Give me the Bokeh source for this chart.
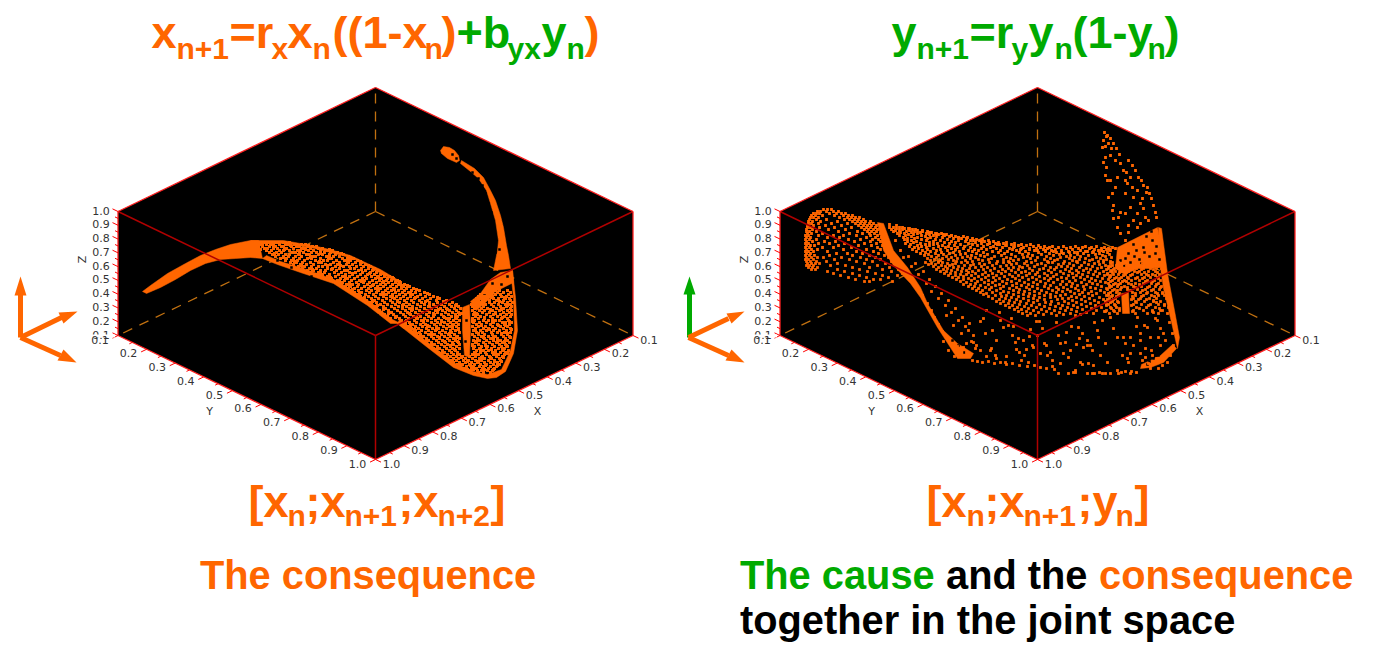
from bokeh.plotting import figure
from bokeh.embed import file_html
from bokeh.resources import INLINE
from bokeh.core.properties import value

ORANGE = "#ff6600"
GREEN = "#00aa00"

ticks = [0.1, 0.2, 0.3, 0.4, 0.5, 0.6, 0.7, 0.8, 0.9, 1.0]
tick_labels = ["0.1", "0.2", "0.3", "0.4", "0.5", "0.6", "0.7", "0.8", "0.9", "1.0"]
minor_ticks = [0.15, 0.25, 0.35, 0.45, 0.55, 0.65, 0.75, 0.85, 0.95]
panel_centres = [375, 1037]

# ---------- readings of the projected attractor (left panel) ----------
left_solid_x = [
    [142, 150, 167, 185, 200, 215, 230, 250, 258, 262, 250, 235, 220, 205, 190, 175, 160, 146],
    [250, 283, 300, 317, 333, 350, 367, 380, 390, 400, 399, 388, 375, 360, 345, 330, 314, 298, 283, 268, 256],
    [262, 277, 300, 333, 367, 390, 397, 403, 404, 392, 369, 336, 303, 280, 266],
    [470, 480, 490, 500, 512, 513, 505, 497, 485, 476],
    [462, 469, 470, 469, 464, 462],
    [397, 403, 427, 453, 473, 487, 496, 505, 513, 517, 515, 512, 510, 513, 514, 510, 501, 487, 473, 455, 430, 406, 399],
    [461, 474, 483, 490, 495, 500, 503, 506, 508, 510, 493, 497, 498, 495, 490, 486, 478, 470, 460],
    [440, 443, 449, 454, 458, 459, 456, 447, 441],
]
left_solid_y = [
    [291, 285, 273, 263, 255, 249, 244, 240, 240, 258, 257, 258, 259, 263, 270, 279, 287, 293],
    [240, 240, 243, 246, 250, 255, 263, 269, 275, 281, 283, 277, 270, 261, 256, 252, 248, 245, 243, 243, 243],
    [258, 264, 272, 283, 305, 323, 323, 328, 325, 319, 301, 280, 268, 261, 255],
    [301, 293, 279, 272, 270, 282, 286, 290, 302, 310],
    [307, 304, 330, 357, 355, 330],
    [323, 328, 347, 367, 375, 378, 377, 371, 353, 330, 297, 270, 270, 297, 330, 350, 369, 374, 371, 363, 344, 325, 319],
    [160, 168, 177, 190, 200, 215, 227, 245, 255, 268, 270, 250, 240, 220, 203, 190, 178, 171, 163],
    [150, 146, 147, 150, 155, 160, 162, 158, 153],
]
left_gap_x = [472, 478, 485, 491, 493, 494, 495, 499, 482, 488, 452, 456, 277, 291, 311, 336, 358, 377, 484, 492, 501, 507, 479, 495, 466, 465]
left_gap_y = [172, 178, 193, 212, 227, 237, 252, 249, 185, 203, 154, 158, 260, 267, 276, 292, 303, 315, 295, 283, 284, 276, 301, 293, 320, 341]
left_row_y = [242, 244, 246, 248, 250, 252, 254, 256, 258, 260, 262, 264, 266, 268, 270, 272, 274, 276, 278, 280,
              282, 284, 286, 288, 290, 292, 294, 296, 298, 300, 302, 304, 306, 308, 310, 312, 314, 316, 318, 320,
              322, 324, 326, 328, 330, 332, 334, 336, 338, 340, 342, 344, 346, 348, 350, 352, 354, 356, 358, 360,
              362, 364, 366, 368, 370, 372]
left_row_x = [
    [256, 261, 263, 268, 274, 277, 283, 289],
    [253, 259, 266, 270, 272, 279, 285, 288, 294, 301, 305],
    [258, 262, 269, 275, 281, 283, 291, 296, 299, 307, 312, 316],
    [264, 267, 273, 277, 286, 293, 301, 304, 310, 318, 322],
    [266, 271, 279, 283, 289, 297, 300, 308, 313, 320, 327, 332],
    [269, 276, 281, 292, 295, 303, 311, 316, 324, 330, 337],
    [272, 278, 285, 289, 298, 306, 309, 318, 322, 329, 335, 343],
    [275, 283, 288, 295, 301, 312, 315, 326, 333, 339, 348],
    [280, 286, 293, 299, 307, 311, 320, 328, 331, 342, 347, 353],
    [285, 291, 297, 304, 315, 323, 327, 336, 344, 350, 357],
    [290, 296, 302, 310, 318, 321, 333, 339, 348, 355, 361],
    [293, 300, 306, 313, 325, 330, 337, 346, 352, 360, 365],
    [298, 304, 311, 318, 322, 335, 343, 349, 356, 363, 370],
    [302, 309, 316, 327, 332, 339, 350, 354, 361, 368, 374],
    [307, 313, 320, 325, 336, 344, 347, 358, 365, 372, 377],
    [311, 318, 324, 334, 341, 349, 355, 362, 370, 376, 381],
    [317, 322, 329, 338, 345, 352, 360, 367, 374, 380, 385],
    [322, 327, 335, 342, 349, 357, 365, 371, 377, 384, 389],
    [327, 331, 340, 347, 354, 362, 366, 375, 381, 387, 393],
    [332, 337, 344, 351, 359, 364, 372, 379, 386, 391, 397],
    [337, 342, 349, 356, 363, 369, 376, 382, 388, 395, 400],
    [341, 346, 352, 358, 367, 373, 380, 385, 392, 398, 404],
    [345, 350, 357, 364, 370, 377, 383, 390, 396, 403, 409],
    [348, 354, 361, 368, 375, 380, 387, 393, 401, 406, 413],
    [351, 358, 366, 371, 378, 385, 391, 398, 404, 411, 419, 486, 494, 499, 507],
    [354, 361, 369, 376, 382, 388, 395, 402, 408, 415, 424, 483, 490, 497, 503, 510],
    [357, 365, 373, 380, 386, 392, 399, 405, 412, 420, 429, 480, 488, 495, 500, 508],
    [360, 368, 375, 383, 390, 396, 403, 410, 417, 425, 433, 478, 484, 492, 501, 506, 511],
    [363, 371, 378, 386, 394, 400, 407, 414, 422, 430, 439, 476, 486, 493, 498, 505, 509],
    [366, 374, 382, 390, 397, 404, 411, 419, 427, 436, 446, 474, 483, 489, 496, 503, 510],
    [369, 376, 384, 392, 399, 406, 413, 421, 429, 437, 445, 452, 474, 481, 489, 494, 502, 507, 512],
    [371, 380, 387, 395, 403, 409, 417, 424, 433, 441, 449, 456, 471, 478, 485, 491, 498, 505, 510],
    [374, 383, 391, 398, 406, 412, 420, 428, 436, 444, 451, 458, 472, 476, 483, 493, 500, 506, 511],
    [376, 385, 394, 402, 409, 416, 424, 431, 440, 446, 454, 460, 474, 481, 487, 496, 503, 510],
    [379, 388, 397, 405, 411, 419, 427, 435, 442, 449, 456, 472, 479, 484, 492, 499, 507, 511],
    [381, 391, 400, 407, 415, 422, 429, 437, 445, 452, 458, 474, 482, 489, 495, 503, 509],
    [384, 393, 403, 410, 418, 426, 434, 441, 448, 455, 459, 473, 477, 486, 493, 500, 506, 511],
    [387, 396, 405, 413, 420, 428, 433, 443, 451, 457, 475, 480, 490, 497, 504, 510],
    [390, 399, 408, 417, 424, 431, 438, 446, 449, 456, 472, 478, 484, 492, 501, 507],
    [401, 406, 414, 421, 427, 435, 441, 448, 453, 459, 474, 483, 488, 495, 499, 508],
    [409, 416, 423, 431, 437, 444, 450, 456, 473, 479, 486, 493, 502, 505, 511],
    [405, 412, 420, 425, 434, 440, 447, 453, 458, 476, 481, 490, 497, 504, 509],
    [408, 415, 422, 429, 436, 443, 449, 456, 472, 478, 485, 492, 500, 507],
    [411, 418, 426, 432, 438, 446, 452, 458, 475, 483, 488, 495, 503, 510],
    [409, 415, 421, 428, 435, 442, 450, 455, 473, 480, 486, 493, 499, 506],
    [412, 419, 425, 431, 439, 445, 451, 459, 476, 482, 491, 497, 504, 510],
    [414, 420, 428, 434, 441, 448, 454, 472, 478, 484, 492, 501, 507],
    [417, 423, 431, 437, 444, 450, 457, 474, 481, 488, 495, 503, 509],
    [419, 426, 433, 439, 447, 453, 459, 477, 484, 490, 497, 505],
    [422, 428, 436, 442, 449, 455, 473, 479, 486, 493, 500, 507],
    [425, 431, 438, 445, 452, 458, 475, 483, 489, 496, 502, 509],
    [427, 434, 441, 447, 453, 459, 472, 478, 485, 492, 499, 505],
    [430, 437, 444, 450, 456, 474, 481, 487, 494, 501, 507],
    [433, 439, 446, 452, 459, 473, 479, 486, 491, 498, 504],
    [435, 442, 449, 455, 476, 483, 488, 495, 503, 508],
    [438, 444, 451, 457, 474, 480, 485, 492, 500, 505],
    [441, 447, 453, 459, 472, 478, 486, 493, 498, 504],
    [444, 450, 456, 462, 469, 475, 482, 489, 496, 502],
    [447, 453, 458, 465, 472, 479, 484, 491, 499],
    [450, 456, 463, 468, 475, 481, 488, 494, 500],
    [453, 459, 465, 471, 477, 484, 490, 497],
    [457, 462, 469, 474, 480, 486, 493, 499],
    [460, 466, 473, 479, 483, 490, 496],
    [464, 471, 476, 482, 488, 494],
    [470, 477, 481, 487, 492],
    [478, 483, 490],
]
left_odd_y = [245, 249, 253, 257, 261, 265, 269, 273, 277, 281, 285, 289, 293, 297, 301, 305, 309, 313, 317, 321,
              325, 329, 333, 337, 341, 345, 349, 353, 357, 361, 365, 369]
left_odd_x = [
    [262, 273, 290, 308], [260, 284, 305, 329], [274, 299, 320, 341], [283, 310, 329, 350], [294, 319, 347, 360],
    [301, 327, 340, 368], [312, 331, 361, 373], [320, 352, 369, 382], [330, 345, 378, 392], [339, 361, 383, 399],
    [349, 372, 401, 407], [352, 377, 394, 416], [359, 383, 410, 427], [364, 392, 415, 437, 491, 504],
    [372, 397, 425, 443, 478, 499], [377, 402, 429, 455, 483, 507], [383, 412, 438, 447, 490, 501],
    [388, 409, 433, 461, 476, 495], [395, 416, 444, 455, 484, 502], [405, 423, 441, 472, 492, 509],
    [410, 427, 452, 481, 498, 505], [414, 436, 458, 475, 489, 511], [416, 431, 449, 478, 501, 507],
    [421, 439, 456, 483, 493, 510], [426, 444, 457, 476, 497, 504], [431, 450, 472, 485, 506],
    [436, 454, 480, 491, 502], [441, 457, 475, 495, 507], [446, 461, 481, 490, 503],
    [452, 467, 478, 494, 501], [459, 470, 485, 497], [467, 473, 484, 493],
]

# ---------- readings of the projected attractor (right panel) ----------
right_solid_x = [
    [877, 883, 893, 907, 920, 927, 943, 957, 973, 970, 957, 937, 920, 910, 893, 883],
    [1158, 1161, 1167, 1174, 1179, 1177, 1171, 1163, 1158],
    [1117, 1157, 1164, 1150, 1137, 1124, 1115],
    [1121, 1128, 1129, 1122],
    [1140, 1150, 1163, 1176, 1172, 1160, 1150, 1141],
]
right_solid_y = [
    [222, 223, 250, 267, 287, 303, 330, 343, 353, 358, 358, 327, 297, 283, 265, 250],
    [227, 228, 273, 310, 337, 348, 322, 288, 253],
    [247, 227, 265, 268, 268, 274, 268],
    [293, 292, 313, 313],
    [368, 367, 362, 348, 344, 355, 360, 364],
]
right_gap_x = [1128, 1136, 1143, 1149, 1152, 1130, 1124, 1139, 1146, 1156, 1133, 1144, 1151, 1125, 1155, 1147, 1153, 1145, 1158, 1149, 1156, 958, 964, 952, 1120, 1134, 1141, 1159]
right_gap_y = [253, 250, 247, 256, 240, 262, 265, 259, 236, 246, 244, 252, 231, 258, 253, 364, 358, 359, 355, 361, 350, 345, 352, 340, 260, 256, 263, 259]
tail_x = [1104, 1107, 1110, 1113, 1116, 1119, 1128, 1132, 1135, 1138, 1143, 1147, 1149, 1151, 1153, 1155, 1156,
          1103, 1102, 1105, 1103, 1106, 1105, 1107, 1112, 1108, 1113, 1112, 1113, 1117, 1120, 1125,
          1110, 1115, 1120, 1117, 1110, 1115, 1127, 1132, 1125, 1133, 1140, 1130, 1125, 1133, 1140, 1120, 1118,
          1128, 1137, 1143, 1137, 1128, 1145, 1148, 1130, 1125, 1137, 1142, 1106, 1108, 1111, 1105, 1123, 1126, 1141, 1146]
tail_y = [132, 135, 138, 143, 148, 154, 160, 165, 170, 177, 185, 187, 193, 198, 205, 212, 217,
          140, 147, 157, 162, 167, 175, 180, 193, 197, 205, 210, 218, 227, 233, 240,
          155, 160, 163, 177, 180, 187, 183, 187, 193, 197, 203, 207, 213, 220, 223, 212, 217,
          225, 213, 208, 227, 232, 217, 220, 177, 180, 190, 198, 136, 143, 148, 146, 170, 172, 180, 192]
loop_row_y = [209, 211, 213, 215, 217, 219, 221, 223, 225, 227, 229, 231, 233, 235, 237, 239, 241, 243, 245, 247,
              249, 251, 253, 255, 257, 259, 261, 263, 265, 267, 269, 271, 273, 275, 277, 279, 281]
loop_row_x = [
    [823, 827, 831], [817, 820, 826, 833, 838], [813, 816, 819, 829, 836, 841, 845], [811, 815, 822, 834, 843, 848, 852],
    [810, 813, 818, 839, 847, 851, 855, 859], [809, 816, 826, 844, 849, 854, 858, 863],
    [808, 812, 820, 837, 852, 857, 861, 865, 870], [808, 811, 818, 831, 847, 855, 860, 864, 869, 873],
    [807, 813, 825, 841, 858, 863, 867, 871, 876], [807, 810, 819, 834, 851, 861, 866, 870, 875],
    [806, 812, 828, 845, 864, 868, 873, 877], [806, 809, 816, 838, 857, 867, 871, 876],
    [807, 811, 822, 849, 862, 869, 874, 880], [805, 808, 818, 833, 843, 856, 870, 877],
    [806, 810, 827, 839, 866, 875, 881], [805, 809, 816, 848, 860, 872, 878],
    [806, 812, 824, 835, 854, 870, 880], [805, 808, 818, 829, 844, 864, 876],
    [806, 810, 814, 838, 858, 871, 882], [805, 809, 822, 833, 851, 877, 884],
    [806, 811, 817, 843, 866, 880], [805, 808, 813, 827, 856, 873, 886],
    [806, 810, 836, 847, 862, 878], [805, 809, 814, 829, 852, 869, 884],
    [806, 811, 817, 823, 841, 860, 875, 888], [805, 808, 813, 834, 849, 866, 880],
    [806, 810, 816, 826, 856, 872, 891], [807, 811, 815, 819, 837, 864, 885],
    [806, 809, 813, 830, 845, 877, 895], [808, 812, 817, 852, 869, 889],
    [811, 815, 837, 859, 882, 898], [827, 844, 867, 891], [833, 852, 875, 902],
    [840, 859, 882, 897], [848, 866, 888], [855, 873, 880], [864, 869, 892],
]
body_row_y = list(range(227, 316))
body_row_x = [
    [889, 893, 899], [896, 904, 908], [891, 902, 912], [895, 899, 909, 917], [893, 906, 914, 922, 927],
    [900, 911, 920, 931], [897, 904, 917, 926, 935, 941], [908, 913, 929, 938, 946], [899, 905, 921, 933, 944, 951],
    [911, 925, 936, 949, 955, 963], [903, 917, 930, 942, 958, 967], [907, 914, 927, 953, 961, 972],
    [904, 921, 935, 947, 966, 976, 982], [911, 926, 940, 958, 970, 979, 988], [907, 916, 933, 951, 965, 984, 993],
    [913, 929, 944, 955, 975, 989, 998, 1006], [905, 920, 937, 949, 968, 981, 995, 1003, 1014],
    [910, 925, 933, 960, 972, 987, 999, 1011, 1021, 1030], [917, 929, 942, 954, 977, 1006, 1018, 1026, 1038],
    [909, 921, 938, 948, 964, 983, 993, 1014, 1033, 1044, 1052, 1063, 1075, 1085, 1096],
    [914, 926, 945, 957, 970, 990, 1002, 1023, 1040, 1049, 1058, 1070, 1082, 1091, 1104, 1112],
    [918, 933, 951, 963, 981, 996, 1009, 1029, 1036, 1047, 1066, 1078, 1089, 1101, 1108],
    [912, 927, 940, 955, 974, 986, 1012, 1020, 1043, 1055, 1072, 1094, 1106],
    [922, 936, 947, 968, 978, 1000, 1016, 1034, 1051, 1061, 1080, 1098, 1110],
    [916, 930, 959, 972, 992, 1007, 1025, 1045, 1068, 1087, 1103],
    [925, 941, 953, 983, 998, 1019, 1038, 1056, 1074, 1092, 1107],
    [920, 935, 949, 965, 976, 1004, 1028, 1049, 1063, 1083, 1099],
    [928, 943, 960, 987, 1011, 1022, 1041, 1059, 1077, 1095, 1109],
    [924, 938, 955, 971, 980, 1001, 1032, 1053, 1070, 1088, 1102],
    [931, 946, 967, 984, 994, 1015, 1027, 1046, 1066, 1080, 1105],
    [936, 951, 962, 975, 1006, 1023, 1037, 1060, 1074, 1096, 1111],
    [927, 942, 957, 970, 991, 1010, 1030, 1050, 1069, 1085, 1100],
    [934, 948, 978, 988, 1003, 1018, 1044, 1057, 1079, 1092, 1106],
    [930, 940, 953, 965, 982, 1013, 1035, 1054, 1072, 1089, 1103],
    [938, 956, 972, 997, 1008, 1026, 1047, 1064, 1076, 1098, 1110],
    [925, 938, 942, 961, 967, 989, 1003, 1009, 1031, 1048, 1052, 1077, 1084, 1103],
    [931, 947, 955, 979, 996, 1016, 1024, 1041, 1063, 1069, 1094, 1110],
    [928, 935, 952, 973, 984, 1011, 1037, 1058, 1088, 1099],
    [941, 949, 964, 970, 992, 1006, 1027, 1045, 1073, 1081, 1105],
    [933, 945, 958, 981, 1000, 1019, 1034, 1061, 1067, 1092, 1108],
    [938, 953, 975, 987, 1013, 1022, 1050, 1056, 1079, 1101],
    [947, 962, 969, 994, 1008, 1029, 1043, 1071, 1086, 1097],
    [936, 943, 957, 983, 1002, 1018, 1039, 1054, 1065, 1090, 1106],
    [951, 966, 978, 990, 1011, 1032, 1048, 1076, 1083, 1111],
    [940, 946, 961, 972, 998, 1005, 1025, 1060, 1069, 1095, 1103],
    [955, 968, 985, 1015, 1021, 1037, 1051, 1078, 1088],
    [944, 950, 975, 992, 1001, 1029, 1044, 1063, 1072, 1099, 1107],
    [960, 966, 982, 1009, 1035, 1056, 1082, 1093],
    [948, 955, 971, 988, 996, 1018, 1026, 1047, 1068, 1076, 1104],
    [963, 978, 1004, 1012, 1039, 1053, 1087, 1097, 1110],
    [952, 958, 985, 993, 1022, 1032, 1061, 1073, 1080],
    [968, 974, 999, 1015, 1044, 1050, 1066, 1091, 1102],
    [956, 963, 981, 1007, 1028, 1036, 1057, 1084, 1108],
    [971, 988, 995, 1019, 1048, 1075, 1095],
    [960, 977, 1002, 1011, 1040, 1062, 1069, 1089, 1100],
    [966, 984, 992, 1024, 1033, 1053, 1081, 1105],
    [975, 1006, 1016, 1045, 1072, 1092],
    [963, 970, 988, 999, 1028, 1037, 1060, 1066, 1086, 1097],
    [980, 995, 1012, 1021, 1050, 1077, 1109],
    [968, 974, 1003, 1032, 1044, 1071, 1083, 1101],
    [985, 991, 1016, 1026, 1056, 1063, 1090],
    [972, 978, 1000, 1009, 1037, 1048, 1075, 1095, 1106],
    [989, 1019, 1029, 1058, 1067, 1084],
    [976, 982, 996, 1013, 1041, 1052, 1078, 1100],
    [1003, 1024, 1034, 1062, 1070, 1091],
    [980, 992, 1008, 1018, 1046, 1056, 1082, 1104],
    [986, 1000, 1029, 1039, 1074, 1088, 1096],
    [983, 1013, 1023, 1050, 1065, 1079],
    [995, 1006, 1034, 1044, 1060, 1092, 1108],
    [988, 1001, 1018, 1028, 1055, 1071, 1084],
    [1011, 1039, 1050, 1076, 1099],
    [992, 1005, 1023, 1033, 1062, 1068, 1089],
    [999, 1016, 1044, 1057, 1081, 1103],
    [1009, 1028, 1037, 1072, 1094],
    [996, 1003, 1020, 1051, 1064, 1085],
    [1014, 1033, 1045, 1076, 1098],
    [1000, 1008, 1026, 1058, 1068, 1090],
    [1019, 1039, 1050, 1081, 1106],
    [1005, 1012, 1031, 1062, 1073, 1095],
    [1024, 1044, 1055, 1086],
    [1009, 1017, 1036, 1067, 1077, 1101],
    [1028, 1049, 1060, 1091],
    [1014, 1021, 1041, 1071, 1082],
    [1033, 1054, 1065, 1096],
    [1018, 1026, 1046, 1076, 1104],
    [1038, 1059, 1086],
    [1022, 1030, 1051, 1070, 1093],
    [1043, 1063, 1080],
    [1027, 1035, 1056, 1075],
]
top_edge_x = [889, 896, 902, 909, 915, 922, 929, 936, 943, 951, 958, 966, 973, 981, 989, 997, 1005, 1013, 1021, 1029, 1037,
              1045, 1053, 1061, 1069, 1077, 1085, 1093, 1101, 1109, 1115]
top_edge_y = [224, 225, 227, 228, 229, 230, 232, 233, 234, 235, 237, 238, 240, 241, 243, 244, 245, 247, 248, 249, 250,
              250, 251, 252, 252, 252, 251, 251, 250, 249, 248]
wedge_x = [895, 900, 903, 908, 911, 915, 918, 923, 926, 929, 931, 935, 938, 941, 945, 948, 951, 955, 958, 962, 965, 969, 973,
           913, 918, 922, 927, 931, 934, 938, 942, 946, 949, 953, 957, 961, 966, 971, 976, 980, 986, 991, 996, 943, 948, 954, 960, 966, 972]
wedge_y = [240, 250, 257, 256, 266, 263, 274, 271, 283, 279, 291, 286, 298, 293, 305, 300, 312, 308, 320, 317, 326, 323, 335,
           281, 288, 295, 303, 310, 317, 324, 331, 315, 338, 325, 346, 333, 352, 341, 345, 350, 356, 348, 358, 341, 350, 356, 349, 343, 360]
fan_row_y = [262, 265, 268, 271, 274, 277, 280, 283, 286, 289, 292, 295, 298, 301, 304, 307, 310, 313,
             263, 266, 269, 272, 275, 278, 281, 284, 287, 290, 293, 296, 299, 302, 305, 308, 311]
fan_row_x = [
    [1157, 1160, 1112, 1118], [1112, 1116, 1120, 1126, 1132, 1140, 1146, 1153, 1159], [1108, 1114, 1118, 1123, 1129, 1136, 1143, 1150, 1156, 1161],
    [1110, 1115, 1120, 1128, 1134, 1139, 1148, 1155, 1162], [1107, 1113, 1118, 1125, 1132, 1141, 1146, 1152, 1159],
    [1109, 1116, 1121, 1127, 1137, 1144, 1150, 1157, 1163], [1112, 1118, 1124, 1131, 1139, 1147, 1154, 1160],
    [1108, 1115, 1120, 1128, 1135, 1143, 1151, 1158, 1164], [1111, 1117, 1124, 1133, 1141, 1149, 1155, 1161],
    [1107, 1114, 1120, 1127, 1137, 1145, 1153, 1159, 1165], [1110, 1116, 1132, 1140, 1147, 1155, 1162],
    [1106, 1112, 1118, 1135, 1143, 1151, 1158, 1164], [1109, 1115, 1133, 1140, 1149, 1156, 1166],
    [1105, 1112, 1117, 1135, 1144, 1153, 1160], [1108, 1114, 1133, 1141, 1150, 1158, 1164],
    [1110, 1116, 1136, 1146, 1155, 1168], [1106, 1113, 1119, 1133, 1143, 1152, 1162], [1109, 1117, 1135, 1147, 1158, 1167],
    [1123, 1135, 1142, 1150], [1110, 1121, 1127, 1133, 1147, 1158], [1113, 1122, 1131, 1141, 1153],
    [1112, 1119, 1126, 1137, 1144, 1157], [1110, 1123, 1130, 1148, 1155], [1114, 1119, 1128, 1135, 1142, 1158],
    [1110, 1122, 1126, 1145, 1152], [1113, 1118, 1131, 1139, 1156], [1109, 1121, 1127, 1135, 1147, 1160],
    [1112, 1117, 1130, 1142, 1151], [1108, 1119, 1135, 1146, 1157], [1111, 1116, 1132, 1141, 1154],
    [1107, 1113, 1131, 1138, 1146], [1110, 1118, 1136, 1156], [1106, 1115, 1131, 1148],
    [1111, 1119, 1139, 1159], [1105, 1114, 1132, 1152],
]
sparse_x = [1050, 1047, 1052, 1060, 1065, 1063, 1068, 1060, 1058, 1073, 1080, 1075, 1083, 1087, 1092, 1088, 1093, 1087, 1092,
            1102, 1110, 1118, 1117, 1127, 1130, 1133, 1140, 1145, 1130, 1097, 1098, 1078, 1082, 1087, 1102, 1110, 1117, 1123,
            1130, 1140, 1150, 1158, 1163, 1157, 1147, 1137, 1160, 1153, 1162, 1169, 1165, 1172, 1173, 1168, 1160, 1152, 1145,
            1142, 1148, 1156, 1162, 1170, 1167, 1158, 1150, 1143, 1151, 1160, 1140, 1153, 1164, 1144, 1155,
            973, 985, 990, 996, 1003, 1006, 1012, 1016, 1021, 1015, 1024, 1028, 1033, 1037, 1040, 1046, 1042, 1030, 1023, 1011,
            1000, 992, 980, 968, 986, 999, 1008, 1018, 1026, 1036, 1044, 1032, 1019, 1005, 995, 975, 963, 983, 1013, 1029, 1039,
            1056, 1066, 1071, 1079, 1094, 1105, 1113, 1125, 1136, 1100, 1082, 1070, 1058, 1052, 1076, 1090, 1107, 1122, 1128,
            977, 982, 988, 994, 1000, 1006, 1012, 1019, 1027, 1034, 1040, 1046, 1054, 1068, 1075, 1094, 1099, 1105, 1121, 1125, 1131, 1136]
sparse_y = [352, 355, 360, 343, 342, 353, 357, 363, 373, 372, 362, 370, 347, 345, 350, 363, 365, 373, 373,
            373, 373, 373, 370, 358, 353, 345, 353, 357, 373, 330, 337, 327, 333, 340, 320, 317, 337, 337,
            337, 333, 337, 337, 333, 320, 327, 317, 310, 300, 293, 322, 340, 333, 345, 352, 345, 355, 348,
            360, 363, 358, 365, 355, 362, 368, 368, 366, 350, 328, 340, 312, 305, 325, 318,
            342, 333, 350, 340, 327, 356, 335, 349, 360, 342, 355, 362, 347, 335, 353, 345, 328, 329, 340, 318,
            320, 330, 321, 330, 310, 312, 325, 338, 349, 321, 343, 345, 352, 362, 355, 348, 347, 318, 326, 336, 321,
            322, 332, 326, 338, 322, 343, 328, 343, 326, 355, 364, 350, 335, 366, 344, 345, 362, 355, 362,
            361, 362, 361, 363, 362, 364, 363, 365, 366, 365, 367, 368, 369, 373, 372, 373, 372, 373, 372, 371, 371, 372]

# ---------- readings of the coordinate-direction arrows ----------
arrow_shaft_x = [[20, 20], [20, 61], [20, 60], [689, 689], [688, 728], [688, 728]]
arrow_shaft_y = [[337, 292], [337, 317], [337, 355], [337, 292], [337, 318], [337, 355]]
arrow_shaft_color = [ORANGE, ORANGE, ORANGE, GREEN, ORANGE, ORANGE]
arrow_head_x = [[14, 20, 26], [58, 77, 63], [57, 76, 63], [683, 689, 695], [726, 744, 731], [725, 744, 731]]
arrow_head_y = [[295, 276, 295], [312, 311, 323], [360, 362, 349], [294, 276, 294], [313, 311, 323], [360, 362, 349]]
arrow_head_color = [ORANGE, ORANGE, ORANGE, GREEN, ORANGE, ORANGE]

# ---------- text runs: text, left x, colour ----------
title_main = [("x", 151, ORANGE), ("=r", 229, ORANGE), ("x", 287, ORANGE), ("((1-x", 332, ORANGE), (")", 441, ORANGE),
              ("+b", 456, GREEN), ("y", 541, GREEN), (")", 584, ORANGE),
              ("y", 891, GREEN), ("=r", 969, GREEN), ("y", 1028, GREEN), ("(1-y", 1072, GREEN), (")", 1164, GREEN)]
title_sub = [("n+1", 176, ORANGE), ("x", 271, ORANGE), ("n", 312, ORANGE), ("n", 424, ORANGE),
             ("yx", 507, GREEN), ("n", 566, GREEN),
             ("n+1", 916, GREEN), ("y", 1011, GREEN), ("n", 1054, GREEN), ("n", 1147, GREEN)]
state_main = [("[x", 248, ORANGE), (";x", 305, ORANGE), (";x", 398, ORANGE), ("]", 490, ORANGE),
              ("[x", 926, ORANGE), (";x", 984, ORANGE), (";y", 1077, ORANGE), ("]", 1134, ORANGE)]
state_sub = [("n", 287, ORANGE), ("n+1", 344, ORANGE), ("n+2", 437, ORANGE),
             ("n", 966, ORANGE), ("n+1", 1023, ORANGE), ("n", 1115, ORANGE)]
caption_runs = [("The consequence", 199.5, 574, ORANGE), ("The cause", 739.5, 574, GREEN), ("and the", 945.5, 574, "#000000"),
                ("consequence", 1098.5, 574, ORANGE), ("together in the joint space", 739.5, 619, "#000000")]


def flatten(ys, rows):
    out_x, out_y = [], []
    for y, row in zip(ys, rows):
        out_x.extend(row)
        out_y.extend([y] * len(row))
    return out_x, out_y


def project(cx, x, y, z):
    """Projection of the reference cube (axis range 0.1-1.0) onto the picture."""
    sx = cx + (y - x) / 0.9 * 257.5
    sy = 211 + ((x - 0.1) + (y - 0.1)) / 0.9 * 124 - (z - 0.1) / 0.9 * 124
    return sx, sy


p = figure(width=1380, height=650, x_range=(0, 1380), y_range=(650, 0), output_backend="svg",
           toolbar_location=None, min_border=0, outline_line_color=None, background_fill_color="white")
p.axis.visible = False
p.grid.visible = False


def seg(cx, a, b):
    pa, pb = project(cx, *a), project(cx, *b)
    return [pa[0], pb[0]], [pa[1], pb[1]]


for cx in panel_centres:
    hull = [(0.1, 0.1, 1.0), (0.1, 1.0, 1.0), (0.1, 1.0, 0.1), (1.0, 1.0, 0.1), (1.0, 0.1, 0.1), (1.0, 0.1, 1.0)]
    hx, hy = zip(*[project(cx, *h) for h in hull])
    p.patch(list(hx), list(hy), fill_color="black", line_color=None)
    for a, b in [((0.1, 0.1, 0.1), (0.1, 0.1, 1.0)), ((0.1, 0.1, 0.1), (1.0, 0.1, 0.1)), ((0.1, 0.1, 0.1), (0.1, 1.0, 0.1))]:
        sx, sy = seg(cx, a, b)
        p.line(sx, sy, line_color="#c07010", line_width=1.3, line_dash="10 8")

lx, ly = flatten(left_row_y, left_row_x)
ox, oy = flatten(left_odd_y, left_odd_x)
lx += ox
ly += oy
rx, ry = list(tail_x), list(tail_y)
for ys, rows in ((loop_row_y, loop_row_x), (body_row_y, body_row_x), (fan_row_y, fan_row_x)):
    ax, ay = flatten(ys, rows)
    rx += ax
    ry += ay
rx += sparse_x + wedge_x + top_edge_x
ry += sparse_y + wedge_y + top_edge_y
p.patches(left_solid_x, left_solid_y, fill_color=ORANGE, line_color=ORANGE, line_width=0.5)
p.patches(right_solid_x, right_solid_y, fill_color=ORANGE, line_color=ORANGE, line_width=0.5)
p.scatter(left_gap_x, left_gap_y, marker="square", size=2.5, fill_color="black", line_color=None)
p.scatter(right_gap_x, right_gap_y, marker="square", size=2.5, fill_color="black", line_color=None)
p.scatter(lx, ly, marker="square", size=3, fill_color=ORANGE, line_color=None)
p.scatter(rx, ry, marker="square", size=2.8, fill_color=ORANGE, line_color=None)

for cx in panel_centres:
    for a, b in [((1.0, 0.1, 1.0), (1.0, 1.0, 1.0)), ((0.1, 1.0, 1.0), (1.0, 1.0, 1.0)), ((1.0, 1.0, 0.1), (1.0, 1.0, 1.0))]:
        sx, sy = seg(cx, a, b)
        p.line(sx, sy, line_color="#b00000", line_width=1.5)
    for a, b in [((1.0, 0.1, 1.0), (0.1, 0.1, 1.0)), ((0.1, 0.1, 1.0), (0.1, 1.0, 1.0)),
                 ((1.0, 0.1, 0.1), (1.0, 0.1, 1.0)), ((0.1, 1.0, 0.1), (0.1, 1.0, 1.0)),
                 ((1.0, 0.1, 0.1), (1.0, 1.0, 0.1)), ((0.1, 1.0, 0.1), (1.0, 1.0, 0.1))]:
        sx, sy = seg(cx, a, b)
        p.line(sx, sy, line_color="#ff2020", line_width=1.3)

    for group, length in ((ticks, 5.5), (minor_ticks, 3)):
        for t in group:
            zx, zy = project(cx, 1.0, 0.1, t)
            p.line([zx, zx - length], [zy, zy - length * 0.48], line_color="#ff0000", line_width=1)
            yx, yy = project(cx, 1.0, t, 0.1)
            p.line([yx, yx - length], [yy, yy + length * 0.48], line_color="#ff0000", line_width=1)
            xx, xy = project(cx, t, 1.0, 0.1)
            p.line([xx, xx + length], [xy, xy + length * 0.48], line_color="#ff0000", line_width=1)

    zpx, zpy = zip(*[project(cx, 1.0, 0.1, t) for t in ticks])
    p.text([v - 17 for v in zpx], [v - 1 for v in zpy], text=tick_labels, text_font=value("DejaVu Sans"),
           text_font_size=value("11px"), text_color="#333333", text_align="center", text_baseline="middle")
    p.quad(left=[zpx[0] - 30], right=[zpx[0] - 3], top=[zpy[0] - 1], bottom=[zpy[0] + 2], fill_color="white", line_color=None)
    ypx, ypy = zip(*[project(cx, 1.0, t, 0.1) for t in ticks])
    p.text([v - 18 for v in ypx], [v + 4 for v in ypy], text=tick_labels, text_font=value("DejaVu Sans"),
           text_font_size=value("11px"), text_color="#333333", text_align="center", text_baseline="middle")
    xpx, xpy = zip(*[project(cx, t, 1.0, 0.1) for t in ticks])
    p.text([v + 16 for v in xpx], [v + 4 for v in xpy], text=tick_labels, text_font=value("DejaVu Sans"),
           text_font_size=value("11px"), text_color="#333333", text_align="center", text_baseline="middle")
    p.text([cx - 166], [411], text=["Y"], text_font=value("DejaVu Sans"), text_font_size=value("11px"),
           text_color="#333333", text_align="center", text_baseline="middle")
    p.text([cx + 162], [411], text=["X"], text_font=value("DejaVu Sans"), text_font_size=value("11px"),
           text_color="#333333", text_align="center", text_baseline="middle")
    p.text([cx - 293], [259], text=["Z"], angle=[1.5708], text_font=value("DejaVu Sans"), text_font_size=value("11px"),
           text_color="#333333", text_align="center", text_baseline="middle")

p.multi_line(arrow_shaft_x, arrow_shaft_y, line_color=arrow_shaft_color, line_width=5)
p.patches(arrow_head_x, arrow_head_y, fill_color=arrow_head_color, line_color=None)


def runs(items, baseline, size):
    p.text([i[1] for i in items], [baseline] * len(items), text=[i[0] for i in items],
           text_color=[i[2] for i in items], text_font=value("Liberation Sans"), text_font_style="bold",
           text_font_size=value(size), text_align="left", text_baseline="alphabetic")


runs(title_main, 32, "45px")
runs(title_sub, 48, "30px")
runs(state_main, 501, "45px")
runs(state_sub, 515, "30px")
p.text([c[1] for c in caption_runs], [c[2] for c in caption_runs], text=[c[0] for c in caption_runs],
       text_color=[c[3] for c in caption_runs], text_font=value("Liberation Sans"), text_font_style="bold",
       text_font_size=value("39.8px"), text_align="left", text_baseline="alphabetic")

open("out.html", "w").write(file_html(p, INLINE))
